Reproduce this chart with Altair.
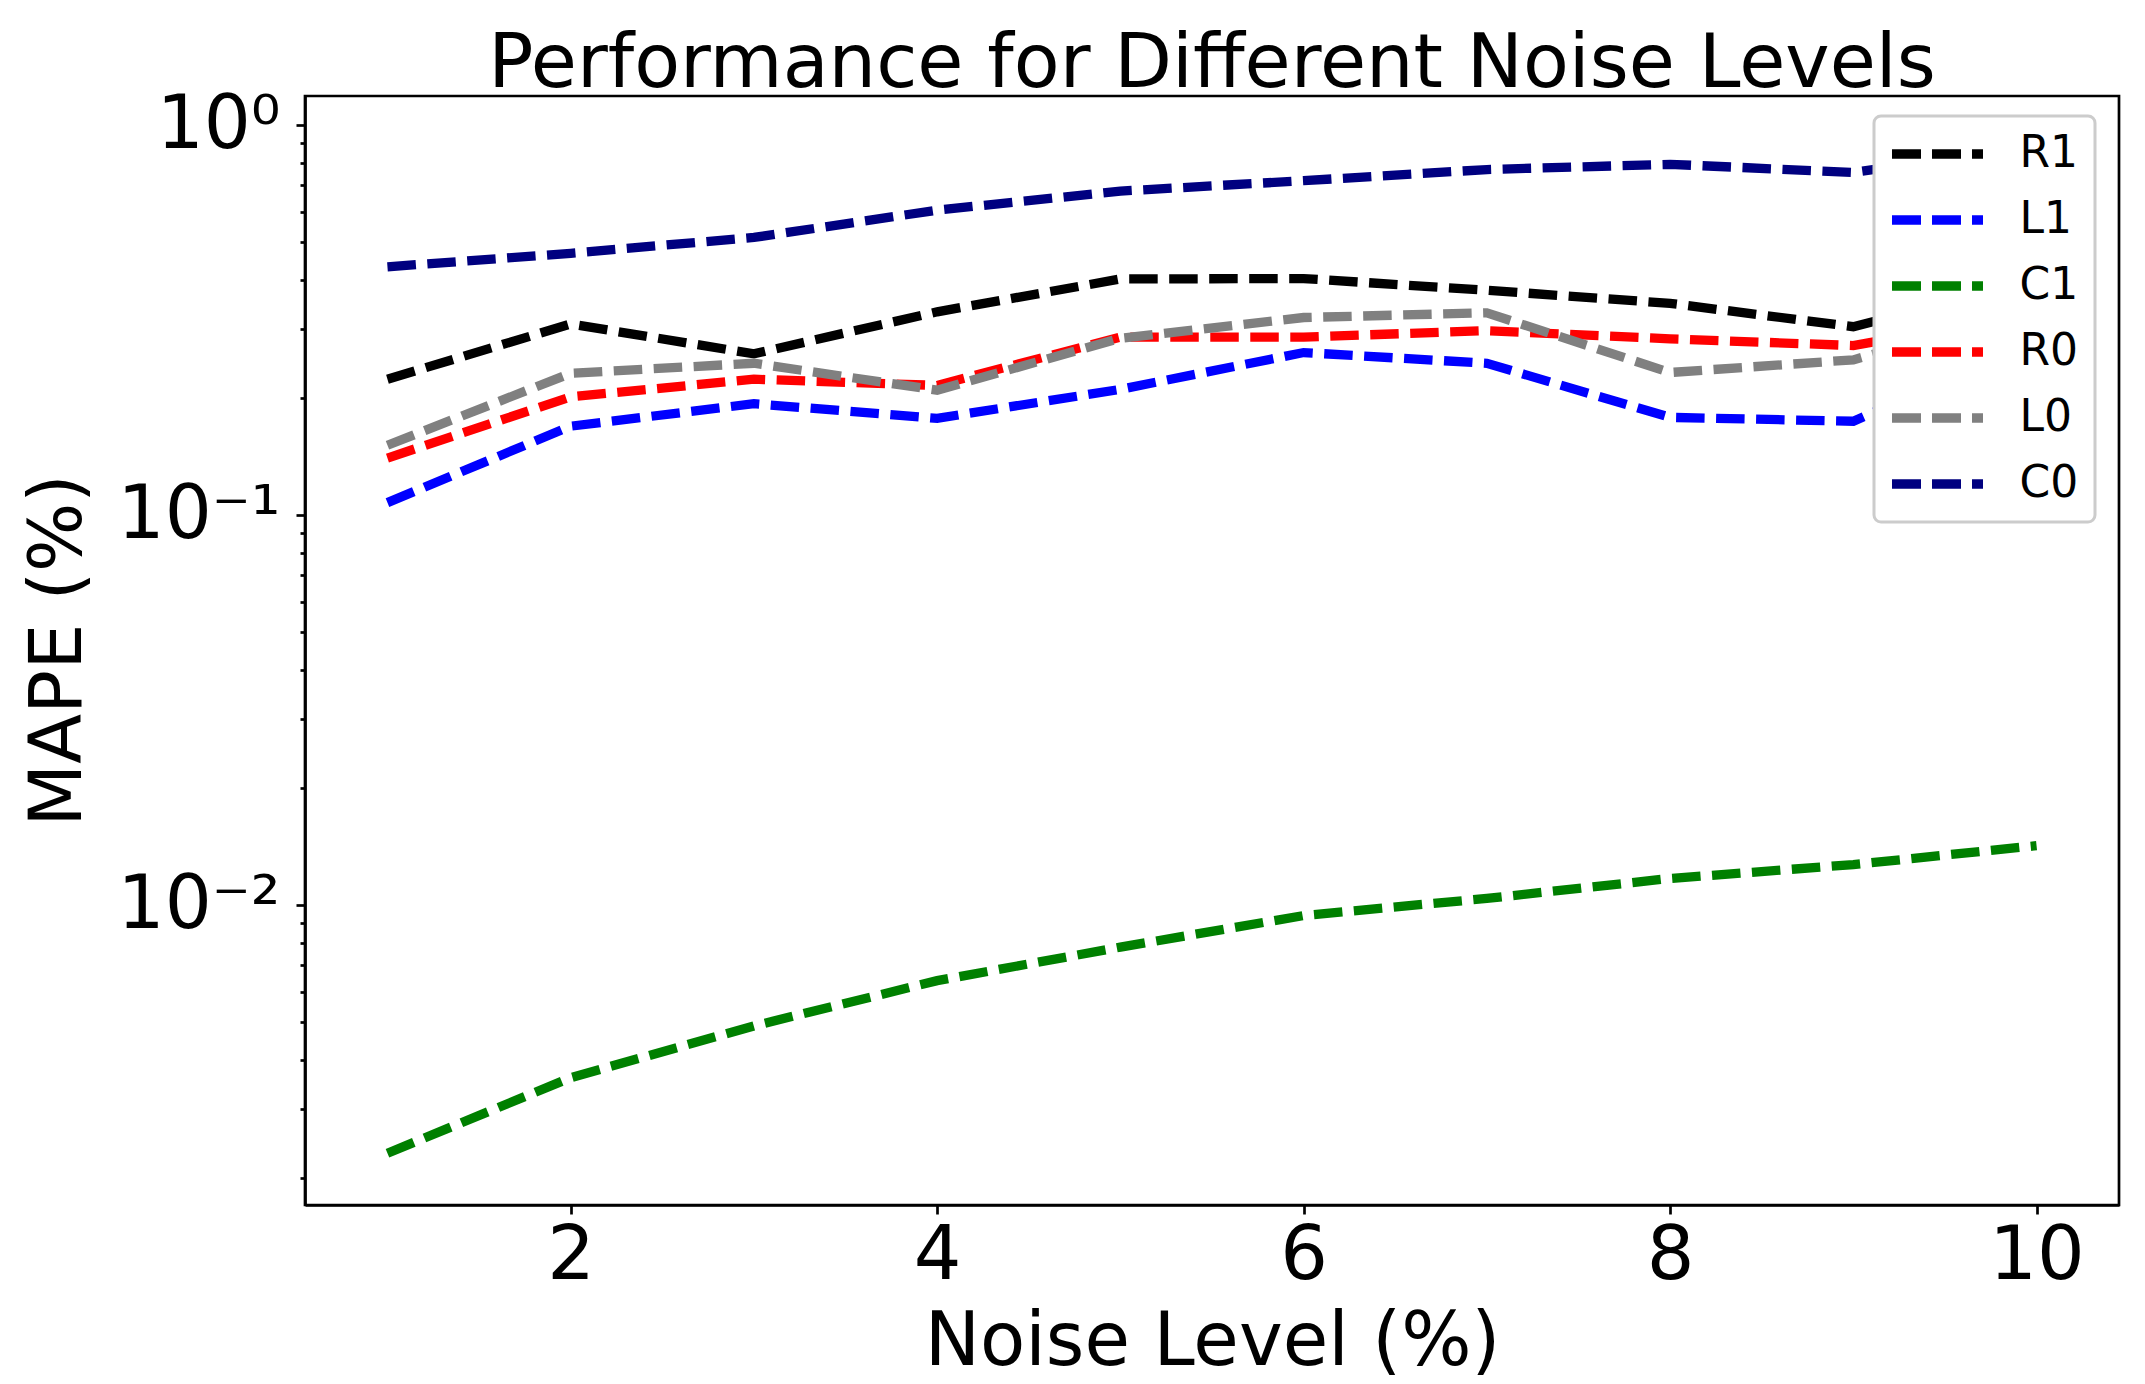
import altair as alt
import pandas as pd

noise = [1, 2, 3, 4, 5, 6, 7, 8, 9, 10]
series_names = ["R1", "L1", "C1", "R0", "L0", "C0"]
series_colors = ["#000000", "#0000ff", "#008000", "#ff0000", "#808080", "#000080"]

r1 = [0.223, 0.309, 0.259, 0.332, 0.403, 0.404, 0.377, 0.349, 0.304, 0.40]
l1 = [0.1076, 0.169, 0.193, 0.177, 0.210, 0.261, 0.245, 0.178, 0.174, 0.28]
c1 = [0.00231, 0.00361, 0.0049, 0.0064, 0.0078, 0.0094, 0.0104, 0.0117, 0.0127, 0.0142]
r0 = [0.140, 0.201, 0.223, 0.215, 0.286, 0.286, 0.297, 0.283, 0.272, 0.33]
l0 = [0.151, 0.231, 0.245, 0.209, 0.284, 0.321, 0.330, 0.232, 0.250, 0.34]
c0 = [0.433, 0.469, 0.515, 0.605, 0.677, 0.720, 0.769, 0.793, 0.756, 0.88]

x_ticks = [2, 4, 6, 8, 10]
y_ticks = [0.002, 0.003, 0.004, 0.005, 0.006, 0.007, 0.008, 0.009,
           0.01, 0.02, 0.03, 0.04, 0.05, 0.06, 0.07, 0.08, 0.09,
           0.1, 0.2, 0.3, 0.4, 0.5, 0.6, 0.7, 0.8, 0.9, 1]

rows = []
for name, vals in zip(series_names, [r1, l1, c1, r0, l0, c0]):
    for x, v in zip(noise, vals):
        rows.append({"noise": x, "mape": v, "series": name})
df = pd.DataFrame(rows)

FONT = "DejaVu Sans"

major_test = "abs(log(datum.value)/LN10 - round(log(datum.value)/LN10)) < 1e-6"

chart = alt.Chart(df).mark_line(
    strokeWidth=9.3, strokeDash=[28.5, 11.5], strokeCap="butt", clip=True
).encode(
    x=alt.X("noise:Q",
            scale=alt.Scale(domain=[0.55, 10.45], nice=False, zero=False),
            axis=alt.Axis(values=x_ticks, title="Noise Level (%)", grid=False,
                          labelFontSize=75, titleFontSize=74, labelFont=FONT, titleFont=FONT,
                          titleFontWeight="normal", labelColor="black", titleColor="black",
                          tickSize=9, tickWidth=2.7, tickColor="black",
                          domainColor="black", domainWidth=2.7, labelPadding=5,
                          titleBaseline="alphabetic", titleY=159, labelFlush=False)),
    y=alt.Y("mape:Q",
            scale=alt.Scale(type="log", domain=[0.001702, 1.187], nice=False),
            axis=alt.Axis(values=y_ticks, title="MAPE (%)", grid=False,
                          labelExpr="datum.value == 1 ? '10⁰' : (datum.value == 0.1 ? '10⁻¹' : (datum.value == 0.01 ? '10⁻²' : ''))",
                          labelFontSize=74, titleFontSize=73, labelFont=FONT, titleFont=FONT,
                          titleFontWeight="normal", labelColor="black", titleColor="black",
                          tickSize={"condition": {"test": major_test, "value": 9}, "value": 5},
                          tickWidth=2.7, tickColor="black",
                          domainColor="black", domainWidth=2.7, labelPadding=16,
                          titleAngle=270, titleAlign="center", titleBaseline="alphabetic",
                          titleX=-225, titleY=554, labelFlush=False, labelOverlap=False)),
    color=alt.Color("series:N",
                    scale=alt.Scale(domain=series_names, range=series_colors),
                    sort=series_names,
                    legend=alt.Legend(title=None, orient="none", legendX=1569, legendY=20,
                                      fillColor="white", strokeColor="#cccccc",
                                      cornerRadius=7, padding=16,
                                      symbolType="M-4,0L4,0", symbolSize=517.6,
                                      symbolStrokeWidth=9.3, symbolDash=[29, 11],
                                      symbolOffset=25.5,
                                      labelFontSize=44, labelFont=FONT, labelColor="black",
                                      labelOffset=60, rowPadding=22)),
).properties(
    width=1814,
    height=1109,
    title=alt.TitleParams("Performance for Different Noise Levels", fontSize=75, font=FONT,
                          fontWeight="normal", color="black", anchor="middle",
                          frame="group", offset=-15),
    autosize=alt.AutoSizeParams(type="none"),
    padding={"left": 297, "top": 88, "right": 18, "bottom": 179},
).configure(
    background="white"
).configure_legend(
    strokeWidth=3
).configure_view(
    stroke="black", strokeWidth=2.7
)

chart.save("out.html", embed_options={"renderer": "svg", "actions": False})
